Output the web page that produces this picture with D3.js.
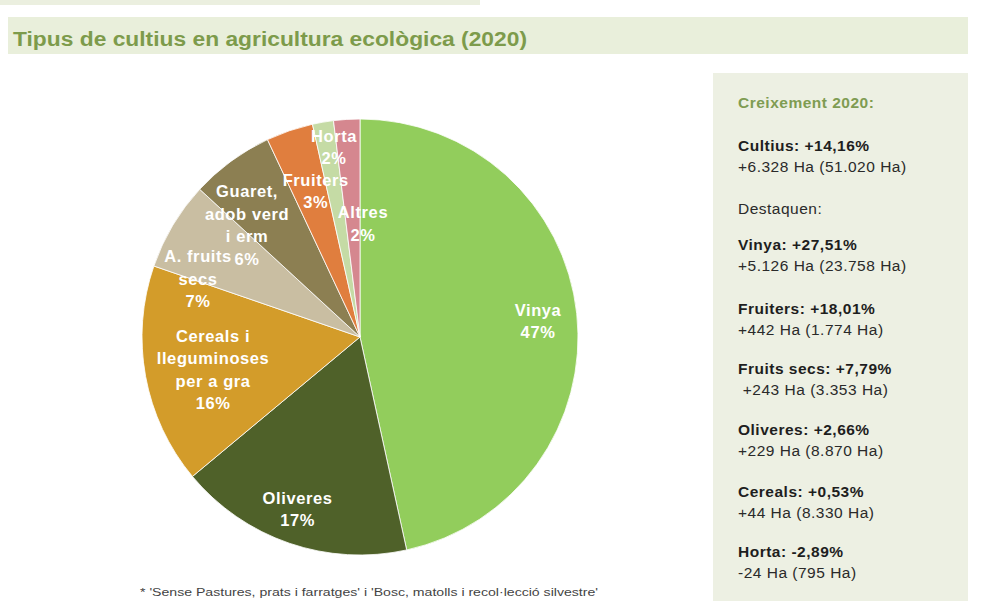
<!DOCTYPE html>
<html>
<head>
<meta charset="utf-8">
<script src="https://cdn.jsdelivr.net/npm/d3@7"></script>
<style>
  body { margin: 0; background: #fff; }
  svg { display: block; font-family: "Liberation Sans", Arial, sans-serif; }
</style>
</head>
<body>
<div id="chart"></div>
<script>
// dades (hectàrees 2020)
const categories = ['Vinya', 'Oliveres', 'Cereals', 'Fruits secs', 'Guaret', 'Fruiters', 'Horta', 'Altres'];
const hectares   = [23758, 8870, 8330, 3353, 3150, 1774, 795, 990];
const pctLabels  = ['47%', '17%', '16%', '7%', '6%', '3%', '2%', '2%'];
const nameLines  = [
  ['Vinya'],
  ['Oliveres'],
  ['Cereals i', 'lleguminoses', 'per a gra'],
  ['A. fruits', 'secs'],
  ['Guaret,', 'adob verd', 'i erm'],
  ['Fruiters'],
  ['Horta'],
  ['Altres']
];
const colors = ['#92cd5c', '#4f6129', '#d39c2a', '#c9bea2', '#8c7f52', '#e07e3e', '#c5dba5', '#d5878f'];

const title = 'Tipus de cultius en agricultura ecològica (2020)';
const footnote = "* 'Sense Pastures, prats i farratges' i 'Bosc, matolls i recol·lecció silvestre'";

// panell dret
const panelHead = 'Creixement 2020:';
const panelItems = [
  {bold: 'Cultius: +14,16%', text: '+6.328 Ha (51.020 Ha)'},
  {bold: null, text: 'Destaquen:'},
  {bold: 'Vinya: +27,51%', text: '+5.126 Ha (23.758 Ha)'},
  {bold: 'Fruiters: +18,01%', text: '+442 Ha (1.774 Ha)'},
  {bold: 'Fruits secs: +7,79%', text: ' +243 Ha (3.353 Ha)'},
  {bold: 'Oliveres: +2,66%', text: '+229 Ha (8.870 Ha)'},
  {bold: 'Cereals: +0,53%', text: '+44 Ha (8.330 Ha)'},
  {bold: 'Horta: -2,89%', text: '-24 Ha (795 Ha)'}
];

// col·locació de les etiquetes (fracció del radi, desplaçament d'angle en graus)
const labelPlace = [
  [0.82, 1], [0.84, 1], [0.69, -2], [0.79, -11], [0.73, -9], [0.70, 2], [0.88, 2], [0.52, 5]
];

const W = 990, H = 614;
const cx = 360, cy = 337, R = 218;

const svg = d3.select('#chart').append('svg')
  .attr('width', W).attr('height', H);

// bandes de fons
svg.append('rect').attr('x', 0).attr('y', 0).attr('width', 480).attr('height', 5).attr('fill', '#ebefdf');
svg.append('rect').attr('x', 8).attr('y', 17).attr('width', 960).attr('height', 37).attr('fill', '#e9efdb');
svg.append('text')
  .attr('x', 13).attr('y', 46)
  .attr('fill', '#7d9b4b')
  .attr('font-size', 20).attr('font-weight', 'bold')
  .attr('textLength', 514).attr('lengthAdjust', 'spacingAndGlyphs')
  .text(title);

// pastís
const pie = d3.pie().sort(null).value(d => d)(hectares);
const arc = d3.arc().innerRadius(0).outerRadius(R);

const g = svg.append('g').attr('transform', `translate(${cx},${cy})`);
g.selectAll('path.slice')
  .data(pie).join('path')
  .attr('class', 'slice')
  .attr('d', arc)
  .attr('fill', (d, i) => colors[i])
  .attr('stroke', '#fff')
  .attr('stroke-width', 0.8);

const lineH = 22.5;
const labels = g.selectAll('g.lbl')
  .data(pie).join('g')
  .attr('class', 'lbl')
  .attr('transform', (d, i) => {
    const [f, off] = labelPlace[i];
    const a = (d.startAngle + d.endAngle) / 2 + off * Math.PI / 180;
    const r = R * f;
    return `translate(${r * Math.sin(a)},${-r * Math.cos(a)})`;
  });

labels.each(function(d, i) {
  const lines = nameLines[i].concat([pctLabels[i]]);
  const t = d3.select(this).append('text')
    .attr('text-anchor', 'middle')
    .attr('fill', '#fff')
    .attr('font-size', 16.5).attr('font-weight', 'bold')
    .attr('letter-spacing', 0.6);
  const y0 = -((lines.length - 1) * lineH) / 2 + 6;
  lines.forEach((s, k) => {
    t.append('tspan').attr('x', 0).attr('y', y0 + k * lineH).text(s);
  });
});

// nota al peu
svg.append('text')
  .attr('x', 140).attr('y', 596)
  .attr('fill', '#444').attr('font-size', 11.5)
  .attr('textLength', 458).attr('lengthAdjust', 'spacingAndGlyphs')
  .text(footnote);

// panell
const px = 713, py = 73;
svg.append('rect').attr('x', px).attr('y', py).attr('width', 255).attr('height', 528).attr('fill', '#edf0e3');
svg.append('text')
  .attr('x', 738).attr('y', 108)
  .attr('fill', '#7f9c52').attr('font-size', 15.5).attr('font-weight', 'bold')
  .attr('letter-spacing', 0.5)
  .text(panelHead);

const itemY = [151, 214, 250, 314, 374, 435, 497, 557];
panelItems.forEach((it, i) => {
  let y = itemY[i];
  if (it.bold) {
    svg.append('text').attr('x', 738).attr('y', y)
      .attr('fill', '#1e1e1e').attr('font-size', 15.5).attr('font-weight', 'bold')
      .attr('letter-spacing', 0.5)
      .text(it.bold);
    y += 21;
  }
  svg.append('text').attr('x', 738).attr('y', y)
    .attr('fill', '#2a2a2a').attr('font-size', 15.5)
    .attr('letter-spacing', 0.5)
    .attr('xml:space', 'preserve').style('white-space', 'pre')
    .text(it.text);
});
</script>
</body>
</html>
